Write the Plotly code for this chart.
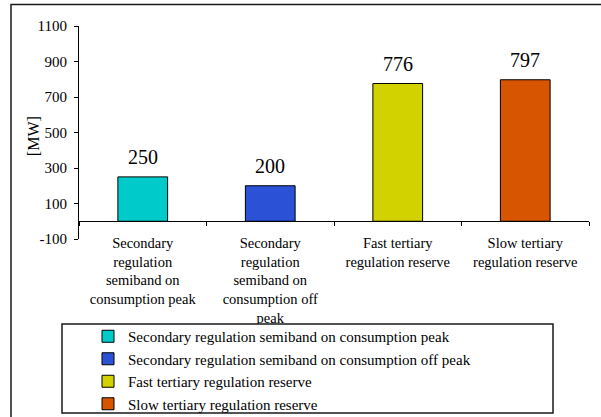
import plotly.graph_objects as go

categories = [
    "Secondary<br>regulation<br>semiband on<br>consumption peak",
    "Secondary<br>regulation<br>semiband on<br>consumption off<br>peak",
    "Fast tertiary<br>regulation reserve",
    "Slow tertiary<br>regulation reserve",
]
series_names = [
    "Secondary regulation semiband on consumption peak",
    "Secondary regulation semiband on consumption off peak",
    "Fast tertiary regulation reserve",
    "Slow tertiary regulation reserve",
]
values = [250, 200, 776, 797]
colors = ["#00CACA", "#2B52D6", "#D2D200", "#D85500"]
y_tick_vals = [-100, 100, 300, 500, 700, 900, 1100]
y_tick_labels = ["-100", "100", "300", "500", "700", "900", "1100"]

FONT = "Liberation Serif"

fig = go.Figure()
for cat, name, v, c in zip(categories, series_names, values, colors):
    fig.add_trace(go.Bar(
        x=[cat], y=[v], name=name,
        marker=dict(color=c, line=dict(color="black", width=1)),
        width=0.39,
    ))

annotations = []
for cat, v in zip(categories, values):
    annotations.append(dict(
        x=cat, y=v, xref="x", yref="y", text=str(v), showarrow=False,
        yanchor="bottom", yshift=7, font=dict(family=FONT, size=20, color="black"),
    ))
annotations.append(dict(
    x=-0.09, xref="paper", xanchor="center", y=480, yref="y", yanchor="middle",
    text="[MW]", textangle=-90,
    showarrow=False, font=dict(family=FONT, size=16, color="black"),
))

W, H = 601, 417
L, R, T, B = 79, 12, 26, 178
pw, ph = W - L - R, H - T - B

def px(x):
    return (x - L) / pw

def py(y):
    return (H - B - y) / ph

shapes = [
    # outer chart border
    dict(type="rect", xref="paper", yref="paper", x0=px(11), x1=px(640), y0=py(4.5), y1=py(460),
         line=dict(color="#1a1a1a", width=1.5), fillcolor="rgba(0,0,0,0)", layer="below"),
    # legend box
    dict(type="rect", xref="paper", yref="paper", x0=px(62), x1=px(553), y0=py(324), y1=py(413),
         line=dict(color="#1a1a1a", width=1.5), fillcolor="white", layer="above"),
]

fig.update_layout(
    width=W, height=H,
    margin=dict(l=L, r=R, t=T, b=B, pad=0, autoexpand=False),
    paper_bgcolor="white", plot_bgcolor="white",
    barmode="overlay",
    showlegend=True,
    legend=dict(
        x=px(88), xanchor="left", y=py(320), yanchor="top",
        font=dict(family=FONT, size=15, color="black"),
        bgcolor="rgba(0,0,0,0)", borderwidth=0,
        tracegroupgap=0, itemclick=False, itemdoubleclick=False,
    ),
    font=dict(family=FONT, color="black"),
    annotations=annotations,
    shapes=shapes,
    xaxis=dict(
        type="category", range=[-0.5, 3.5],
        anchor="free", position=100 / 1200,
        showline=True, linecolor="black", linewidth=1,
        ticks="outside", ticklen=4, tickcolor="black", tickson="boundaries",
        showgrid=False, zeroline=False,
        tickfont=dict(family=FONT, size=14.5, color="black"),
        ticklabelstandoff=8,
    ),
    yaxis=dict(
        range=[-100, 1100], domain=[0, 1],
        tickvals=y_tick_vals, ticktext=y_tick_labels,
        showline=True, linecolor="black", linewidth=1,
        ticks="outside", ticklen=4, tickcolor="black",
        showgrid=False, zeroline=False,
        tickfont=dict(family=FONT, size=15, color="black"),
        ticklabelstandoff=4,
    ),
)

fig.write_html("out.html", config={"displayModeBar": False},
               post_script="document.body.style.margin='0';")
